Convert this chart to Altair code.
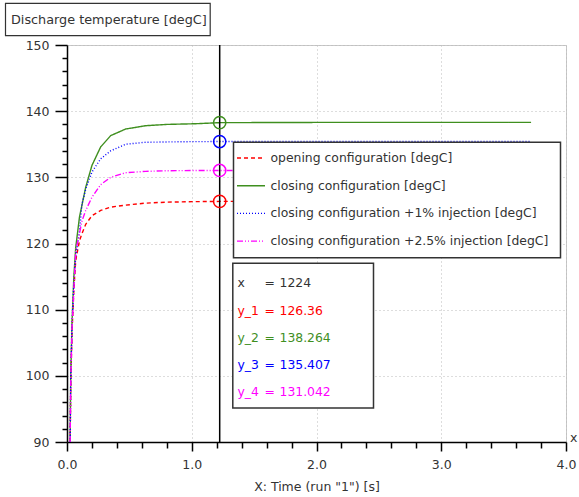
import altair as alt
import pandas as pd

# ---------------- data ----------------
series_names = [
    "opening configuration [degC]",
    "closing configuration [degC]",
    "closing configuration +1% injection [degC]",
    "closing configuration +2.5% injection [degC]",
]
series_colors = ["#ff0000", "#3f8f1f", "#0000ff", "#ff00ff"]
series_dashes = [[4, 3], [1, 0], [1, 2], [6, 2, 1, 2, 1, 2]]

time_s = [0.025, 0.03, 0.04, 0.055, 0.07, 0.1, 0.12, 0.15, 0.2, 0.27,
          0.35, 0.47, 0.63, 0.8, 1.03, 1.224, 2.0, 3.72]
y_opening = [90, 98.5, 106.5, 113, 117.5, 120.4, 121.5, 122.9, 124.2, 125.0,
             125.5, 125.8, 126.1, 126.25, 126.33, 126.36, 126.37, 126.37]
y_closing = [90, 100, 108, 115, 119.4, 124.0, 125.8, 128.5, 131.8, 134.6,
             136.3, 137.3, 137.8, 138.0, 138.1, 138.264, 138.3, 138.3]
y_inj1 = [90, 99.5, 107.5, 114, 118, 121.8, 126.0, 128.2, 130.8, 132.8,
          134.0, 135.0, 135.3, 135.35, 135.4, 135.407, 135.41, 135.41]
y_inj25 = [90, 99, 107, 113, 118.9, 121.5, 123.4, 125.0, 127.0, 128.9,
           130.0, 130.7, 130.9, 131.0, 131.03, 131.042, 131.05, 131.05]

cursor_time = 1.224
cursor_label = "1224"
cursor_values = [126.36, 138.264, 135.407, 131.042]
readout_names = ["y_1", "y_2", "y_3", "y_4"]

x_ticks = [round(i * 0.2, 1) for i in range(21)]
y_ticks = list(range(90, 151, 2))

# ---------------- build tables ----------------
rows = []
for name, ys in zip(series_names, [y_opening, y_closing, y_inj1, y_inj25]):
    for t, v in zip(time_s, ys):
        rows.append({"series": name, "t": t, "v": v})
df = pd.DataFrame(rows)
cur_df = pd.DataFrame({"series": series_names, "t": [cursor_time] * 4, "v": cursor_values})
dummy = pd.DataFrame({"a": [0]})

W, H = 499, 397
FONT = "DejaVu Sans"
TXT = "#333333"
FS = 12.4

x_scale = alt.Scale(domain=[0, 4], nice=False, zero=False)
y_scale = alt.Scale(domain=[90, 150], nice=False, zero=False)
color_scale = alt.Scale(domain=series_names, range=series_colors)
dash_scale = alt.Scale(domain=series_names, range=series_dashes)

x_axis = alt.Axis(
    values=x_ticks,
    labelExpr="datum.value % 1 === 0 ? format(datum.value, '.1f') : ''",
    tickSize={"condition": {"test": "datum.value % 1 === 0", "value": 9}, "value": 6},
    gridOpacity={"condition": {"test": "datum.value % 1 === 0", "value": 1}, "value": 0},
    grid=True, gridColor="#bbbbbb", gridDash=[1, 3],
    domainColor="black", tickColor="black", domainWidth=1.5, tickWidth=1.5,
    labelFont=FONT, labelFontSize=12.5, labelColor=TXT, labelPadding=7,
    titleFont=FONT, titleFontSize=12.5, titleFontWeight="normal", titleColor=TXT,
    titlePadding=10, labelFlush=False, labelOverlap=False,
)
y_axis = alt.Axis(
    values=y_ticks,
    labelExpr="datum.value % 10 === 0 ? format(datum.value, 'd') : ''",
    tickSize={"condition": {"test": "datum.value % 10 === 0", "value": 12}, "value": 5},
    gridOpacity={"condition": {"test": "datum.value % 10 === 0", "value": 1}, "value": 0},
    grid=True, gridColor="#bbbbbb", gridDash=[1, 3],
    domainColor="black", tickColor="black", domainWidth=1.5, tickWidth=1.5,
    labelFont=FONT, labelFontSize=12.5, labelColor=TXT, labelPadding=6,
    labelFlush=False, labelOverlap=False,
)
x_title = 'X: Time (run "1") [s]'


def X(field):
    return alt.X(field, type="quantitative", scale=x_scale, axis=x_axis, title=x_title)


def Y(field):
    return alt.Y(field, type="quantitative", scale=y_scale, axis=y_axis, title=None)


lines = alt.Chart(df).mark_line(strokeWidth=1.4, clip=True).encode(
    x=X("t"), y=Y("v"),
    color=alt.Color("series:N", scale=color_scale, legend=None),
    strokeDash=alt.StrokeDash("series:N", scale=dash_scale, legend=None),
    detail="series:N",
)

cursor = alt.Chart(pd.DataFrame({"t": [cursor_time]})).mark_rule(
    color="black", strokeWidth=1.5).encode(x=X("t"))

circles = alt.Chart(cur_df).mark_point(
    shape="circle", filled=False, size=150, strokeWidth=1.5, opacity=1).encode(
    x=X("t"), y=Y("v"),
    color=alt.Color("series:N", scale=color_scale, legend=None),
)

layers = [lines, cursor, circles]

# legend box
lx0, lx1, ly0, ly1 = 166.5, 493.5, 97.3, 212.7
layers.append(alt.Chart(dummy).mark_rect(fill="white", stroke="#333333", strokeWidth=1.5).encode(
    x=alt.value(lx0), x2=alt.value(lx1), y=alt.value(ly0), y2=alt.value(ly1)))
for i, (name, col, dash) in enumerate(zip(series_names, series_colors, series_dashes)):
    yy = 113 + 27.7 * i
    layers.append(alt.Chart(dummy).mark_rule(color=col, strokeDash=dash, strokeWidth=1.4).encode(
        x=alt.value(170), x2=alt.value(198), y=alt.value(yy)))
    layers.append(alt.Chart(dummy).mark_text(
        align="left", baseline="middle", font=FONT, fontSize=FS, color=TXT).encode(
        x=alt.value(203.5), y=alt.value(yy), text=alt.value(name)))

# readout box
layers.append(alt.Chart(dummy).mark_rect(fill="white", stroke="#333333", strokeWidth=1.5).encode(
    x=alt.value(165.8), x2=alt.value(306.5), y=alt.value(218.3), y2=alt.value(363)))
readout_rows = [("x", cursor_label, TXT)] + [
    (n, str(v), c) for n, v, c in zip(readout_names, cursor_values, series_colors)]
for i, (lab, val, col) in enumerate(readout_rows):
    yy = 238.3 + 27.2 * i
    for xx, s in [(170.5, lab), (197.5, "="), (212.5, val)]:
        layers.append(alt.Chart(dummy).mark_text(
            align="left", baseline="middle", font=FONT, fontSize=FS, color=col).encode(
            x=alt.value(xx), y=alt.value(yy), text=alt.value(s)))

# title box
layers.append(alt.Chart(dummy).mark_rect(fill="white", stroke="#333333", strokeWidth=1.2).encode(
    x=alt.value(-61.5), x2=alt.value(143.2), y=alt.value(-41.7), y2=alt.value(-9.3)))
layers.append(alt.Chart(dummy).mark_text(
    align="left", baseline="middle", font=FONT, fontSize=12.8, color=TXT).encode(
    x=alt.value(-56), y=alt.value(-25), text=alt.value("Discharge temperature [degC]")))

# 'x' marker at end of x axis
layers.append(alt.Chart(dummy).mark_text(
    align="left", baseline="middle", font=FONT, fontSize=12.5, color=TXT).encode(
    x=alt.value(503), y=alt.value(393), text=alt.value("x")))

chart = alt.layer(*layers).properties(
    width=W, height=H,
    autosize=alt.AutoSizeParams(type="none"),
    padding={"left": 67, "top": 45, "right": 13, "bottom": 55},
    background="white",
).configure_view(stroke="#c8c8c8", strokeWidth=1)

chart.save("out.html", embed_options={"renderer": "svg", "actions": False})
